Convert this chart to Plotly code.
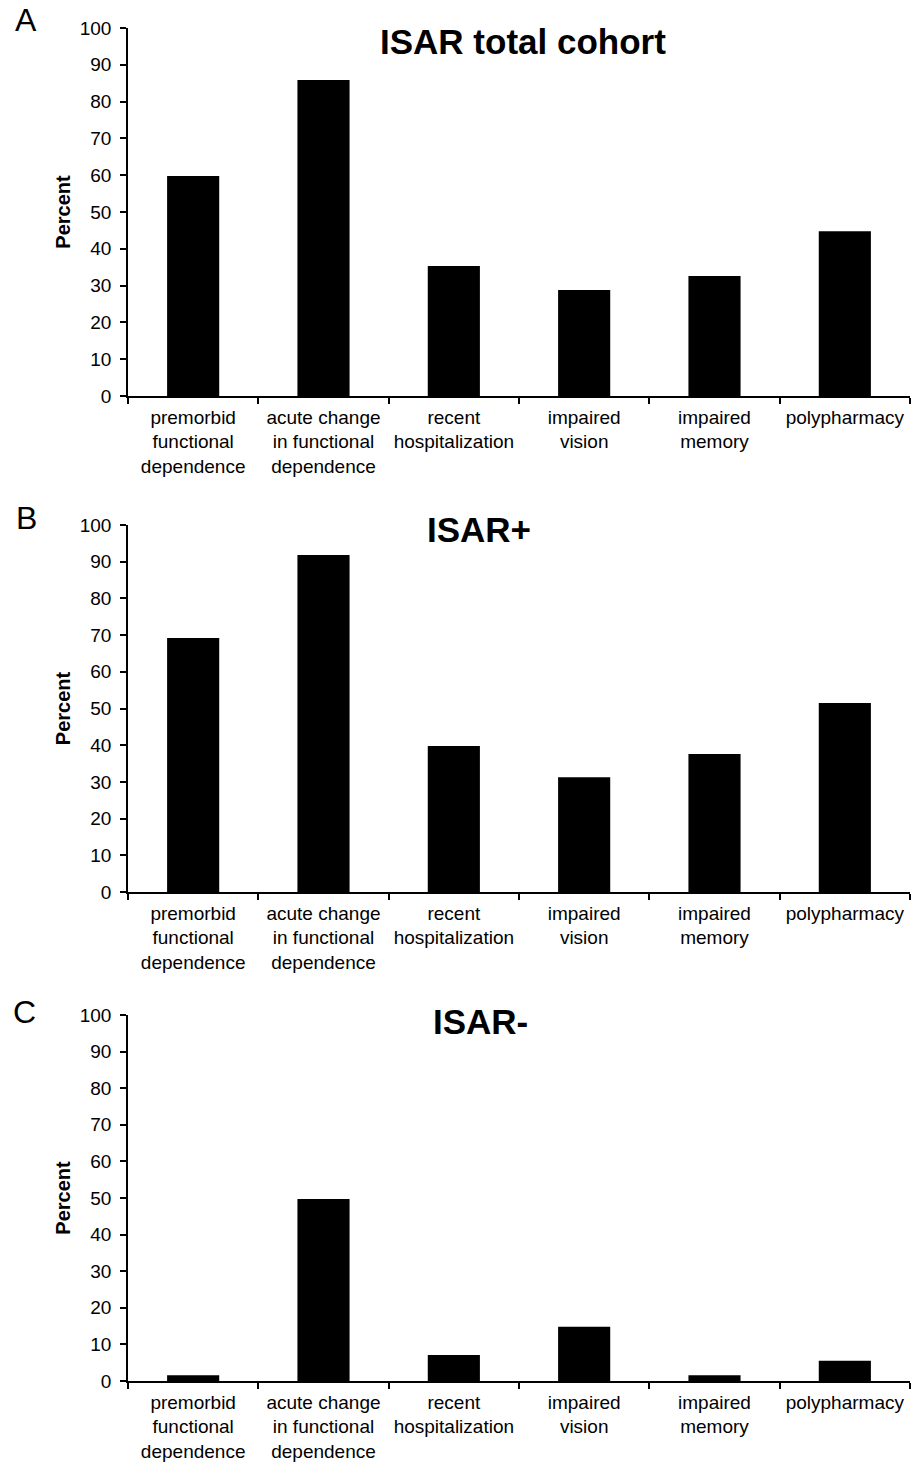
import plotly.graph_objects as go

categories = [
    "premorbid<br>functional<br>dependence",
    "acute change<br>in functional<br>dependence",
    "recent<br>hospitalization",
    "impaired<br>vision",
    "impaired<br>memory",
    "polypharmacy",
]
total_cohort = [59.8, 85.9, 35.3, 28.8, 32.6, 44.8]
isar_pos = [69.2, 91.8, 39.8, 31.3, 37.6, 51.5]
isar_neg = [1.6, 49.7, 7.1, 14.8, 1.6, 5.5]
panel_titles = ["ISAR total cohort", "ISAR+", "ISAR-"]
panel_letters = ["A", "B", "C"]
y_ticks = [0, 10, 20, 30, 40, 50, 60, 70, 80, 90, 100]

W, H = 919, 1462
FONT = "Liberation Sans, Arial, sans-serif"

# pixel layout of each panel: (top px, bottom px)
panels_px = [(28, 396), (525, 892), (1015, 1381)]
x_left, x_right = 128, 910
title_pos = [(523, 42), (479, 530), (480, 1022)]
letter_pos = [(26, 20), (26, 518), (24, 1012)]

fig = go.Figure()
series = [total_cohort, isar_pos, isar_neg]
for i, vals in enumerate(series):
    n = i + 1
    xa = "x" if n == 1 else f"x{n}"
    ya = "y" if n == 1 else f"y{n}"
    fig.add_trace(go.Bar(x=categories, y=vals, xaxis=xa, yaxis=ya,
                         marker=dict(color="black", line=dict(width=0)),
                         width=0.4, showlegend=False))
    top, bot = panels_px[i]
    xkey = "xaxis" if n == 1 else f"xaxis{n}"
    ykey = "yaxis" if n == 1 else f"yaxis{n}"
    fig.update_layout(**{
        xkey: dict(domain=[x_left / W, x_right / W], anchor=ya,
                   type="category", range=[-0.5, 5.5],
                   showline=True, linecolor="black", linewidth=1.5,
                   ticks="outside", tickson="boundaries", ticklen=6,
                   tickcolor="black", tickwidth=1.5, ticklabelstandoff=3,
                   tickfont=dict(family=FONT, size=19, color="black"),
                   showgrid=False, zeroline=False, automargin=False),
        ykey: dict(domain=[1 - bot / H, 1 - top / H], anchor=xa,
                   range=[0, 100], tickvals=y_ticks,
                   showline=True, linecolor="black", linewidth=1.5,
                   ticks="outside", ticklen=6, tickcolor="black", tickwidth=1.5,
                   ticklabelstandoff=5,
                   tickfont=dict(family=FONT, size=19, color="black"),
                   title=dict(text="<b>Percent</b>", standoff=4,
                              font=dict(family=FONT, size=20, color="black")),
                   showgrid=False, zeroline=False, automargin=False),
    })
    tx, ty = title_pos[i]
    fig.add_annotation(text=f"<b>{panel_titles[i]}</b>", x=tx / W, y=1 - ty / H,
                       xref="paper", yref="paper", showarrow=False,
                       xanchor="center", yanchor="middle",
                       font=dict(family=FONT, size=35, color="black"))
    lx, ly = letter_pos[i]
    fig.add_annotation(text=panel_letters[i], x=lx / W, y=1 - ly / H,
                       xref="paper", yref="paper", showarrow=False,
                       xanchor="center", yanchor="middle",
                       font=dict(family=FONT, size=32, color="black"))

fig.update_layout(width=W, height=H, margin=dict(l=0, r=0, t=0, b=0),
                  plot_bgcolor="white", paper_bgcolor="white", bargap=0.6)
fig.write_html("out.html", config={"displayModeBar": False},
               post_script="document.body.style.margin='0px';document.body.style.overflow='hidden';")
